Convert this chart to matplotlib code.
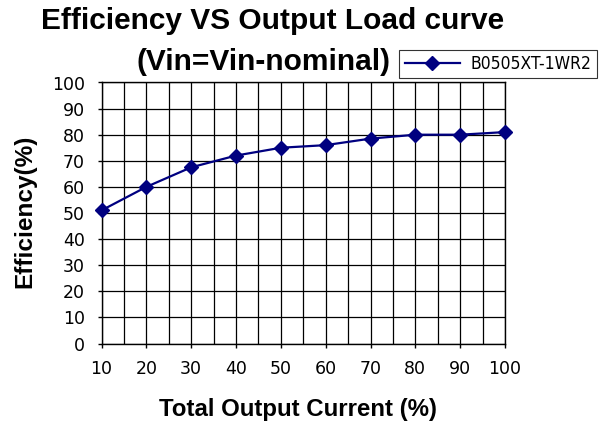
import matplotlib
matplotlib.use("Agg")
import matplotlib.pyplot as plt
import numpy as np
from matplotlib.ticker import MultipleLocator

# data
load_pct = [10, 20, 30, 40, 50, 60, 70, 80, 90, 100]
efficiency = [51, 60, 67.5, 72, 75, 76, 78.5, 80, 80, 81]
series_name = "B0505XT-1WR2"
title_line1 = "Efficiency VS Output Load curve"
title_line2 = "(Vin=Vin-nominal)"
x_label = "Total Output Current (%)"
y_label = "Efficiency(%)"

tick_font = ["DejaVu Sans"]
bold_font = ["Liberation Sans", "DejaVu Sans"]

W, H = 606, 423
fig = plt.figure(figsize=(W / 100, H / 100), dpi=100)
ax = fig.add_axes([101.5 / W, 1 - 343.5 / H, (505 - 101.5) / W, (343.5 - 82.5) / H])

ax.plot(load_pct, efficiency, color="#000080", lw=1.6, marker="D", ms=7,
        markerfacecolor="#000080", markeredgecolor="#000080", label=series_name,
        clip_on=False, zorder=3)

ax.set_xlim(10, 100)
ax.set_ylim(0, 100)
ax.xaxis.set_major_locator(MultipleLocator(10))
ax.xaxis.set_minor_locator(MultipleLocator(5))
ax.yaxis.set_major_locator(MultipleLocator(10))
ax.grid(True, which="both", axis="x", color="black", lw=0.9)
ax.grid(True, which="major", axis="y", color="black", lw=0.9)
ax.tick_params(axis="both", which="both", length=3, width=1, labelsize=12.5, pad=9)
ax.tick_params(axis="x", which="minor", length=0)
for lbl in ax.get_xticklabels() + ax.get_yticklabels():
    lbl.set_fontfamily(tick_font)
for sp in ax.spines.values():
    sp.set_linewidth(1.0)

fig.text(298 / W, 1 - 409 / H, x_label, ha="center", va="center",
         fontsize=17.3, fontweight="bold", family=bold_font)
fig.text(25 / W, 1 - 211 / H, y_label, ha="center", va="center", rotation=90,
         fontsize=17.6, fontweight="bold", family=bold_font)

fig.text(273 / W, 1 - 29 / H, title_line1, ha="center", va="baseline",
         fontsize=21.5, fontweight="bold", family=bold_font)
fig.text(264 / W, 1 - 70 / H, title_line2, ha="center", va="baseline",
         fontsize=21.5, fontweight="bold", family=bold_font)

leg = fig.legend(loc="center", bbox_to_anchor=(498 / W, 1 - 64 / H), frameon=True,
                 fancybox=False, edgecolor="black", handlelength=3.2, handletextpad=0.6,
                 borderpad=0.3, prop={"family": tick_font, "size": 12.5, "stretch": "condensed"})
leg.get_frame().set_linewidth(0.8)

fig.savefig("out.png", dpi=100)
